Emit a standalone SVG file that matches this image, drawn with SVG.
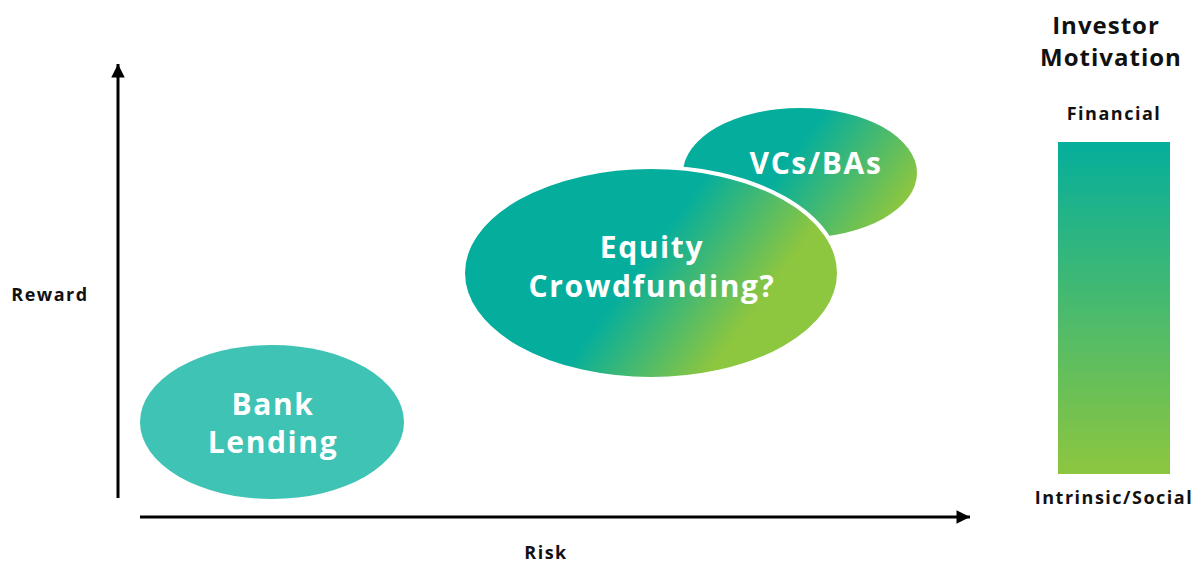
<svg xmlns="http://www.w3.org/2000/svg" width="1200" height="562" viewBox="0 0 1200 562">
<style>
.lbl{font-family:"Open Sans","Liberation Sans",sans-serif;font-weight:700;fill:#111;text-anchor:middle}
.in{font-family:"Open Sans","Liberation Sans",sans-serif;font-weight:700;fill:#fff;text-anchor:middle;font-size:30px;letter-spacing:1.6px}
.ax{stroke:#000;stroke-width:3;fill:none}
</style>
<defs>
<marker id="ah" viewBox="0 0 10 10" refX="10" refY="5" markerWidth="8" markerHeight="4.5" markerUnits="strokeWidth" orient="auto"><path d="M0,0 L10,5 L0,10 Z" fill="#000"/></marker>
<linearGradient id="gv" gradientUnits="userSpaceOnUse" x1="800" y1="145" x2="895" y2="215"><stop offset="0" stop-color="#05AE9C"/><stop offset="1" stop-color="#8DC63F"/></linearGradient>
<linearGradient id="ge" gradientUnits="userSpaceOnUse" x1="640" y1="266" x2="735" y2="336"><stop offset="0" stop-color="#05AE9C"/><stop offset="1" stop-color="#8DC63F"/></linearGradient>
<linearGradient id="gb" x1="0" y1="0" x2="0" y2="1"><stop offset="0" stop-color="#05AE9C"/><stop offset="1" stop-color="#8DC63F"/></linearGradient>
</defs>
<g id="connectors">
<line class="ax" x1="118" y1="498" x2="118" y2="64" marker-end="url(#ah)"/>
<line class="ax" x1="140" y1="517" x2="970" y2="517" marker-end="url(#ah)"/>
</g>
<g id="vcs"><ellipse cx="800" cy="173" rx="117" ry="65" fill="url(#gv)"/><text class="in" x="816" y="174">VCs/BAs</text></g>
<g id="equity"><ellipse cx="651" cy="273" rx="188" ry="106" fill="url(#ge)" stroke="#fff" stroke-width="4"/><text class="in" x="652" y="258">Equity</text><text class="in" x="652" y="297">Crowdfunding?</text></g>
<g id="bank"><ellipse cx="272" cy="422" rx="132" ry="77" fill="#3EC3B5"/><text class="in" x="273" y="415">Bank</text><text class="in" x="273" y="453">Lending</text></g>
<g id="axis-labels">
<text class="lbl" x="50" y="301" font-size="18" letter-spacing="1.5">Reward</text>
<text class="lbl" x="546" y="559" font-size="18" letter-spacing="1.5">Risk</text>
</g>
<g id="motivation">
<text class="lbl" x="1106" y="34" font-size="24" letter-spacing="1">Investor</text>
<text class="lbl" x="1111" y="66" font-size="24" letter-spacing="1">Motivation</text>
<text class="lbl" x="1114" y="120" font-size="18" letter-spacing="1.5">Financial</text>
<rect x="1058" y="142" width="112" height="332" fill="url(#gb)"/>
<text class="lbl" x="1114" y="504" font-size="18" letter-spacing="1.5">Intrinsic/Social</text>
</g>
</svg>
